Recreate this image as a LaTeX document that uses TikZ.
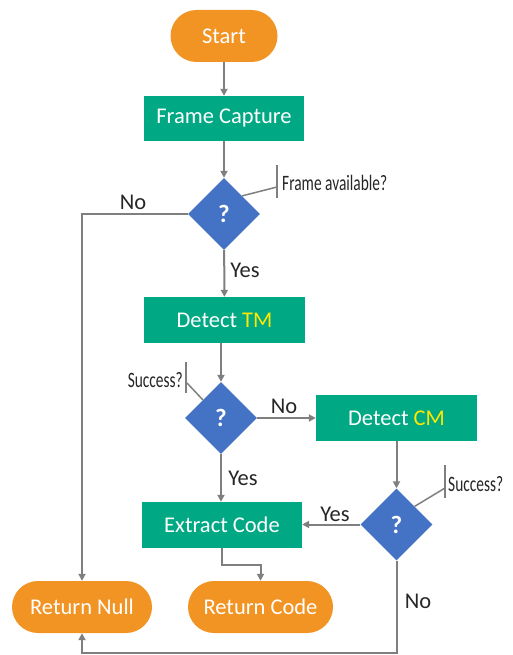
\documentclass[tikz,border=0pt]{standalone}
\usepackage{fontspec}
\setmainfont{Carlito}
\newfontfamily\notefont[FakeStretch=0.7]{Carlito}
\usepackage{xcolor}
\usepackage{tikz}
\usetikzlibrary{arrows.meta,shapes.geometric}
\definecolor{termcol}{RGB}{242,148,36}
\definecolor{stepcol}{RGB}{0,168,132}
\definecolor{askcol}{RGB}{68,114,196}
\definecolor{linecol}{RGB}{127,127,127}
\definecolor{keycol}{RGB}{255,232,0}
\definecolor{inkcol}{RGB}{38,38,38}
\tikzset{
  >={Triangle[length=7pt,width=7pt]},
  font=\fontsize{22.5}{26}\selectfont,
  term/.style={rounded corners=26pt, fill=termcol, text=white,
    minimum height=52pt, inner sep=0pt},
  stepbox/.style={fill=stepcol, text=white, minimum width=160pt,
    minimum height=46pt, inner sep=0pt},
  ask/.style={diamond, fill=askcol, text=white, minimum width=72pt,
    minimum height=72pt, inner sep=0pt, font=\fontsize{25}{28}\selectfont\bfseries},
  % arrows and side notes
  flow/.style={->, linecol, line width=2pt},
  note/.style={linecol, line width=1.5pt},
  notetxt/.style={font=\notefont\fontsize{22}{25}\selectfont, text=inkcol, inner sep=0pt},
  lbl/.style={text=inkcol, inner sep=0pt},
}

\begin{document}
\begin{tikzpicture}[x=1pt, y=-1pt]
\useasboundingbox (0,0) rectangle (513,655);

% ---------- main column ----------
\node[term, minimum width=107pt] (start) at (224,36) {Start};
\node[stepbox, minimum height=45pt] (capture) at (224,118.5) {Frame Capture};
\node[ask] (q1) at (224,214) {?};
\node[stepbox, minimum width=161pt] (tm) at (224.5,320) {Detect \textcolor{keycol}{TM}};
\node[ask] (q2) at (221,418) {?};
\node[stepbox, minimum width=161pt] (cm) at (396.5,418) {Detect \textcolor{keycol}{CM}};
\node[ask] (q3) at (396.5,524.5) {?};
\node[stepbox] (extract) at (222,525) {Extract Code};

% ---------- end points ----------
\node[term, minimum width=140pt] (null) at (82,607) {Return Null};
\node[term, minimum width=145pt] (code) at (260.5,607) {Return Code};

% ---------- flow arrows ----------
\coordinate (join) at (222,565);
\coordinate (bend) at (396.5,653);
\draw[flow] (start) -- (capture);
\draw[flow] (capture) -- (q1);
\draw[flow] (q1.west) -| (null.north);
\draw[flow] (q1) -- (tm);
\draw[flow] (q2 |- tm.south) -- (q2.north);
\draw[flow] (q2.east) -- (q2.east -| cm.west);
\draw[flow] (q2.south) -- (q2.south |- extract.north);
\draw[flow] (cm) -- (q3);
\draw[flow] (q3.west) -- (q3.west -| extract.east);
\draw[flow] (q3.south) -- (bend) -| (null.south);
\draw[flow] (extract.south) -- (join) -| (code.north);

% ---------- branch labels ----------
\node[lbl] (no1)  at (133,202) {No};
\node[lbl] (yes1) at (245,270) {Yes};
\node[lbl] (no2)  at (284,406) {No};
\node[lbl] (yes2) at (243,478) {Yes};
\node[lbl] (yes3) at (335,514) {Yes};
\node[lbl] (no3)  at (418,601) {No};

% ---------- side notes ----------
\node[notetxt, anchor=west] (n1) at (282,183) {Frame available?};
\coordinate (n1a) at (277,187);
\coordinate (n1t) at (277,165);
\coordinate (n1b) at (277,198);
\draw[note] (q1.north east) -- (n1a);
\draw[note] (n1t) -- (n1b);

\node[notetxt, anchor=east] (n2) at (183,380) {Success?};
\coordinate (n2a) at (187,383);
\coordinate (n2t) at (186,362);
\coordinate (n2b) at (186,393);
\draw[note] (q2.north west) -- (n2a);
\draw[note] (n2t) -- (n2b);

\node[notetxt, anchor=west] (n3) at (448,484) {Success?};
\coordinate (n3a) at (445,488);
\coordinate (n3t) at (445,465);
\coordinate (n3b) at (445,498);
\draw[note] (q3.north east) -- (n3a);
\draw[note] (n3t) -- (n3b);

\end{tikzpicture}
\end{document}
